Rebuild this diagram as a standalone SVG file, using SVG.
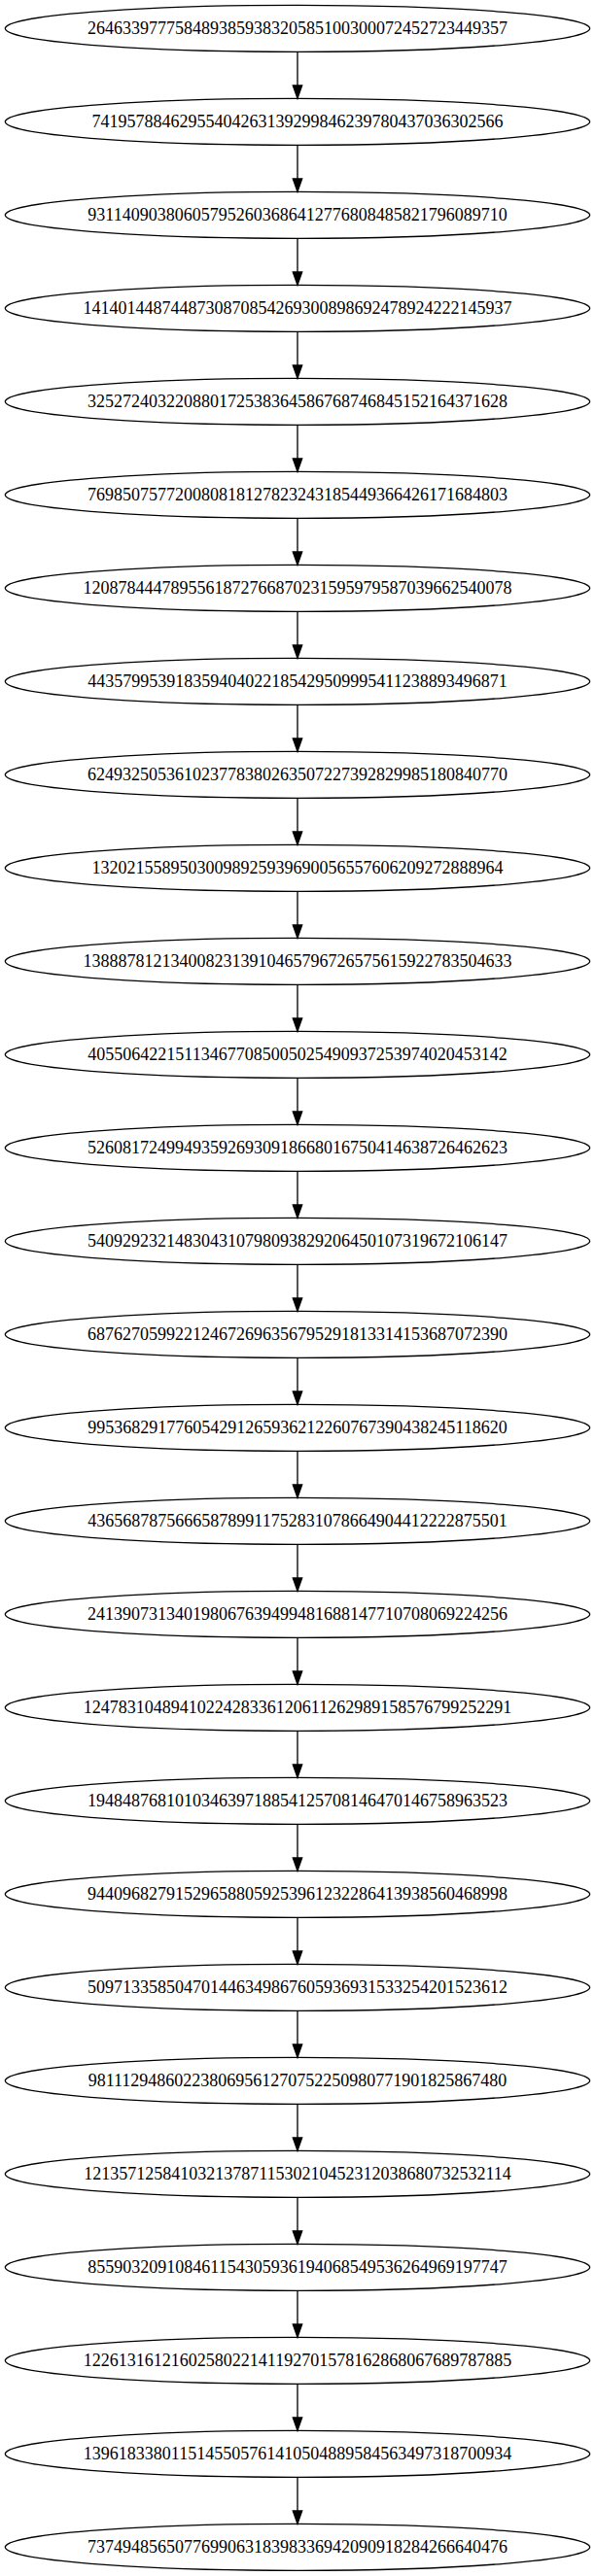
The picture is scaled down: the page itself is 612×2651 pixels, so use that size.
<svg xmlns="http://www.w3.org/2000/svg" width="612" height="2651" viewBox="0 0 612 2651">
<style>
.n ellipse{fill:none;stroke:#000;stroke-width:1.33}
.n text{font-family:"Liberation Serif","Times New Roman",serif;font-size:18px;text-anchor:middle;fill:#000}
</style>
<defs>
<g id="arr"><line x1="306" y1="53.33" x2="306" y2="88" stroke="#000" stroke-width="1.33"/><polygon points="301.33,88 306,101.33 310.67,88" fill="#000" stroke="#000" stroke-width="1.33"/></g>
</defs>
<rect width="612" height="2651" fill="#fff"/>
<g id="edges">
<use href="#arr" transform="translate(0,0)"/>
<use href="#arr" transform="translate(0,96)"/>
<use href="#arr" transform="translate(0,192)"/>
<use href="#arr" transform="translate(0,288)"/>
<use href="#arr" transform="translate(0,384)"/>
<use href="#arr" transform="translate(0,480)"/>
<use href="#arr" transform="translate(0,576)"/>
<use href="#arr" transform="translate(0,672)"/>
<use href="#arr" transform="translate(0,768)"/>
<use href="#arr" transform="translate(0,864)"/>
<use href="#arr" transform="translate(0,960)"/>
<use href="#arr" transform="translate(0,1056)"/>
<use href="#arr" transform="translate(0,1152)"/>
<use href="#arr" transform="translate(0,1248)"/>
<use href="#arr" transform="translate(0,1344)"/>
<use href="#arr" transform="translate(0,1440)"/>
<use href="#arr" transform="translate(0,1536)"/>
<use href="#arr" transform="translate(0,1632)"/>
<use href="#arr" transform="translate(0,1728)"/>
<use href="#arr" transform="translate(0,1824)"/>
<use href="#arr" transform="translate(0,1920)"/>
<use href="#arr" transform="translate(0,2016)"/>
<use href="#arr" transform="translate(0,2112)"/>
<use href="#arr" transform="translate(0,2208)"/>
<use href="#arr" transform="translate(0,2304)"/>
<use href="#arr" transform="translate(0,2400)"/>
<use href="#arr" transform="translate(0,2496)"/>
</g>
<g id="n1" class="n"><ellipse cx="306" cy="29.33" rx="300.67" ry="24"/><text x="306" y="35.33">264633977758489385938320585100300072452723449357</text></g>
<g id="n2" class="n"><ellipse cx="306" cy="125.33" rx="300.67" ry="24"/><text x="306" y="131.33">74195788462955404263139299846239780437036302566</text></g>
<g id="n3" class="n"><ellipse cx="306" cy="221.33" rx="300.67" ry="24"/><text x="306" y="227.33">931140903806057952603686412776808485821796089710</text></g>
<g id="n4" class="n"><ellipse cx="306" cy="317.33" rx="300.67" ry="24"/><text x="306" y="323.33">1414014487448730870854269300898692478924222145937</text></g>
<g id="n5" class="n"><ellipse cx="306" cy="413.33" rx="300.67" ry="24"/><text x="306" y="419.33">325272403220880172538364586768746845152164371628</text></g>
<g id="n6" class="n"><ellipse cx="306" cy="509.33" rx="300.67" ry="24"/><text x="306" y="515.33">769850757720080818127823243185449366426171684803</text></g>
<g id="n7" class="n"><ellipse cx="306" cy="605.33" rx="300.67" ry="24"/><text x="306" y="611.33">1208784447895561872766870231595979587039662540078</text></g>
<g id="n8" class="n"><ellipse cx="306" cy="701.33" rx="300.67" ry="24"/><text x="306" y="707.33">443579953918359404022185429509995411238893496871</text></g>
<g id="n9" class="n"><ellipse cx="306" cy="797.33" rx="300.67" ry="24"/><text x="306" y="803.33">624932505361023778380263507227392829985180840770</text></g>
<g id="n10" class="n"><ellipse cx="306" cy="893.33" rx="300.67" ry="24"/><text x="306" y="899.33">13202155895030098925939690056557606209272888964</text></g>
<g id="n11" class="n"><ellipse cx="306" cy="989.33" rx="300.67" ry="24"/><text x="306" y="995.33">1388878121340082313910465796726575615922783504633</text></g>
<g id="n12" class="n"><ellipse cx="306" cy="1085.33" rx="300.67" ry="24"/><text x="306" y="1091.33">405506422151134677085005025490937253974020453142</text></g>
<g id="n13" class="n"><ellipse cx="306" cy="1181.33" rx="300.67" ry="24"/><text x="306" y="1187.33">526081724994935926930918668016750414638726462623</text></g>
<g id="n14" class="n"><ellipse cx="306" cy="1277.33" rx="300.67" ry="24"/><text x="306" y="1283.33">540929232148304310798093829206450107319672106147</text></g>
<g id="n15" class="n"><ellipse cx="306" cy="1373.33" rx="300.67" ry="24"/><text x="306" y="1379.33">687627059922124672696356795291813314153687072390</text></g>
<g id="n16" class="n"><ellipse cx="306" cy="1469.33" rx="300.67" ry="24"/><text x="306" y="1475.33">995368291776054291265936212260767390438245118620</text></g>
<g id="n17" class="n"><ellipse cx="306" cy="1565.33" rx="300.67" ry="24"/><text x="306" y="1571.33">436568787566658789911752831078664904412222875501</text></g>
<g id="n18" class="n"><ellipse cx="306" cy="1661.33" rx="300.67" ry="24"/><text x="306" y="1667.33">241390731340198067639499481688147710708069224256</text></g>
<g id="n19" class="n"><ellipse cx="306" cy="1757.33" rx="300.67" ry="24"/><text x="306" y="1763.33">1247831048941022428336120611262989158576799252291</text></g>
<g id="n20" class="n"><ellipse cx="306" cy="1853.33" rx="300.67" ry="24"/><text x="306" y="1859.33">194848768101034639718854125708146470146758963523</text></g>
<g id="n21" class="n"><ellipse cx="306" cy="1949.33" rx="300.67" ry="24"/><text x="306" y="1955.33">944096827915296588059253961232286413938560468998</text></g>
<g id="n22" class="n"><ellipse cx="306" cy="2045.33" rx="300.67" ry="24"/><text x="306" y="2051.33">509713358504701446349867605936931533254201523612</text></g>
<g id="n23" class="n"><ellipse cx="306" cy="2141.33" rx="300.67" ry="24"/><text x="306" y="2147.33">981112948602238069561270752250980771901825867480</text></g>
<g id="n24" class="n"><ellipse cx="306" cy="2237.33" rx="300.67" ry="24"/><text x="306" y="2243.33">1213571258410321378711530210452312038680732532114</text></g>
<g id="n25" class="n"><ellipse cx="306" cy="2333.33" rx="300.67" ry="24"/><text x="306" y="2339.33">855903209108461154305936194068549536264969197747</text></g>
<g id="n26" class="n"><ellipse cx="306" cy="2429.33" rx="300.67" ry="24"/><text x="306" y="2435.33">1226131612160258022141192701578162868067689787885</text></g>
<g id="n27" class="n"><ellipse cx="306" cy="2525.33" rx="300.67" ry="24"/><text x="306" y="2531.33">1396183380115145505761410504889584563497318700934</text></g>
<g id="n28" class="n"><ellipse cx="306" cy="2621.33" rx="300.67" ry="24"/><text x="306" y="2627.33">737494856507769906318398336942090918284266640476</text></g>
</svg>
